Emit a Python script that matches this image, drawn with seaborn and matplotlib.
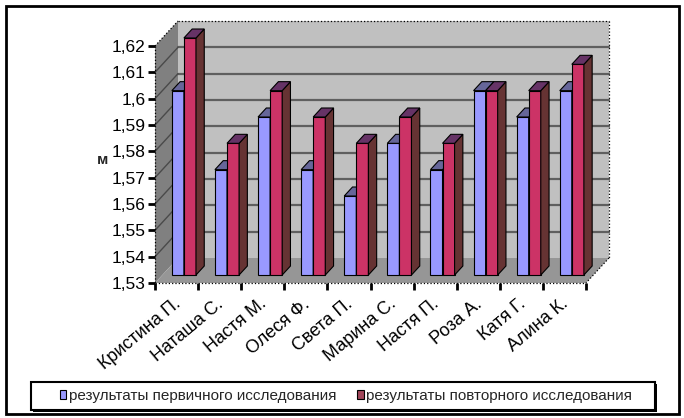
# Рост девочек: первичное и повторное исследование (3D-like bar chart)

import numpy as np
import pandas as pd
import matplotlib
matplotlib.use('Agg')
import matplotlib.pyplot as plt
import matplotlib.transforms as mtransforms
from matplotlib.patches import Polygon, Rectangle
from matplotlib.lines import Line2D
import seaborn as sns

# Data
names = ['Кристина П.', 'Наташа С.', 'Настя М.', 'Олеся Ф.', 'Света П.',
         'Марина С.', 'Настя П.', 'Роза А.', 'Катя Г.', 'Алина К.']
first = [1.60, 1.57, 1.59, 1.57, 1.56, 1.58, 1.57, 1.60, 1.59, 1.60]
second = [1.62, 1.58, 1.60, 1.59, 1.58, 1.59, 1.58, 1.60, 1.60, 1.61]
series = ['результаты первичного исследования', 'результаты повторного исследования']
yticks = [1.53, 1.54, 1.55, 1.56, 1.57, 1.58, 1.59, 1.60, 1.61, 1.62]
ytick_labels = ['1,53', '1,54', '1,55', '1,56', '1,57', '1,58', '1,59', '1,6', '1,61', '1,62']

df = pd.DataFrame({'name': names * 2,
                   'value': first + second,
                   'series': [series[0]] * len(names) + [series[1]] * len(names)})

base, top = yticks[0], yticks[-1]

# Colours
front = ['#9999FF', '#CC3366']
tops = ['#666699', '#663366']
sides = ['#55558A', '#663333']
legend_keys = ['#9999FF', '#A0465A']

sns.set_theme(style = 'ticks')
plt.rcParams['font.family'] = ['Liberation Sans', 'DejaVu Sans']

fig = plt.figure(figsize = (6.84, 4.18), dpi = 100)
ax = fig.add_axes([155 / 684, 135 / 418, 431 / 684, 237 / 418])

sns.barplot(ax = ax,
            data = df,
            x = 'name',
            y = 'value',
            hue = 'series',
            palette = front,
            saturation = 1,
            width = 0.56,
            gap = 0,
            errorbar = None,
            edgecolor = 'black',
            linewidth = 0.8,
            legend = False)

ax.set_xlim(-0.5, len(names) - 0.5)
ax.set_ylim(base, top)
ax.set_facecolor('none')
for s in ax.spines.values():
    s.set_visible(False)
ax.set(xlabel = '', ylabel = '')

# depth helpers (depth in pixels)
inv = fig.transFigure.inverted()
wall_d = 25
bar_d0, bar_d1 = 8, 17

def pt(x, v, d):
    px, py = ax.transData.transform((x, v))
    return inv.transform((px + 0.92 * d, py + d))

def face(pts, color, z, lw = 0.8, ec = 'black'):
    poly = Polygon([pt(*p) for p in pts], closed = True, facecolor = color,
                   edgecolor = ec, linewidth = lw, transform = fig.transFigure,
                   clip_on = False, zorder = z)
    ax.add_patch(poly)

def line(p1, p2, color, lw, ls = '-', z = 0.5):
    a, b = pt(*p1), pt(*p2)
    ax.add_line(Line2D([a[0], b[0]], [a[1], b[1]], color = color, lw = lw, ls = ls,
                       transform = fig.transFigure, clip_on = False, zorder = z))

bars = list(ax.patches)
x0, x1 = ax.get_xlim()

# walls and floor
face([(x0, base, wall_d), (x1, base, wall_d), (x1, top, wall_d), (x0, top, wall_d)], '#C0C0C0', 0.1, lw = 0)
face([(x0, base, 0), (x0, base, wall_d), (x0, top, wall_d), (x0, top, 0)], '#808080', 0.1, lw = 0)
face([(x0, base, 0), (x1, base, 0), (x1, base, wall_d), (x0, base, wall_d)], '#969696', 0.1, lw = 0)

for v in yticks[1:-1]:
    line((x0, v, wall_d), (x1, v, wall_d), '#5F5F5F', 1.6)
    line((x0, v, 0), (x0, v, wall_d), '#4A4A4A', 1.0)

# dotted outlines
for p1, p2 in [((x0, top, wall_d), (x1, top, wall_d)),
               ((x1, top, wall_d), (x1, base, wall_d)),
               ((x1, base, wall_d), (x1, base, 0)),
               ((x0, base, 0), (x1, base, 0)),
               ((x0, top, 0), (x0, top, wall_d)),
               ((x0, top, 0), (x0, base, 0))]:
    line(p1, p2, 'black', 0.9, ls = ':', z = 0.6)

# bars: move to mid depth, start at the floor, add side and top faces
shift = mtransforms.ScaledTranslation(0.92 * bar_d0 / 100, bar_d0 / 100, fig.dpi_scale_trans)
for k, p in enumerate(bars):
    i = k // len(names)
    v = p.get_height()
    p.set_y(base)
    p.set_height(v - base)
    p.set_transform(ax.transData + shift)
    p.set_clip_on(False)
    p.set_zorder(2 + i)
    xl = p.get_x()
    xr = xl + p.get_width()
    face([(xr, base, bar_d0), (xr, base, bar_d1), (xr, v, bar_d1), (xr, v, bar_d0)], sides[i], 2 + i)
    face([(xl, v, bar_d0), (xr, v, bar_d0), (xr, v, bar_d1), (xl, v, bar_d1)], tops[i], 2 + i)

# ticks
ax.set_yticks(yticks, ytick_labels)
ax.set_xticks(range(len(names)), [''] * len(names))
ax.set_xticks(np.arange(-0.5, len(names), 1), minor = True)
ax.tick_params(axis = 'y', left = True, length = 5, width = 2, color = 'black',
               pad = 2, labelsize = 12.5, labelcolor = 'black')
ax.tick_params(axis = 'x', which = 'major', bottom = False, length = 0)
ax.tick_params(axis = 'x', which = 'minor', bottom = True, length = 5, width = 2, color = 'black')

# category labels (slanted, right end under each group)
lab_off = mtransforms.ScaledTranslation(2 / 100, -19 / 100, fig.dpi_scale_trans)
for i, name in enumerate(names):
    ax.text(i, base, name, rotation = 40, rotation_mode = 'anchor',
            ha = 'right', va = 'center', fontsize = 13, color = 'black',
            transform = ax.transData + lab_off, clip_on = False)

fig.text(103 / 684, 1 - 160 / 418, 'м', fontsize = 11, fontweight = 'bold',
         ha = 'center', va = 'center')

# legend box with shadow
fig.add_artist(Rectangle((33 / 684, 1 - 412 / 418), 624 / 684, 28 / 418,
                         transform = fig.transFigure, facecolor = 'black',
                         edgecolor = 'black', linewidth = 0, zorder = 2))
fig.add_artist(Rectangle((31 / 684, 1 - 410 / 418), 624 / 684, 28 / 418,
                         transform = fig.transFigure, facecolor = 'white',
                         edgecolor = 'black', linewidth = 1.5, zorder = 3))

handles = [Rectangle((0, 0), 1, 1, facecolor = c, edgecolor = 'black', linewidth = 0.8) for c in legend_keys]
leg = fig.legend(handles = handles, labels = series, loc = 'center',
                 bbox_to_anchor = (346 / 684, 1 - 396 / 418), ncol = 2, frameon = False,
                 fontsize = 11, handlelength = 0.45, handleheight = 0.45,
                 handletextpad = 0.15, columnspacing = 1.37, borderpad = 0)
leg.set_zorder(5)

# outer frame
fig.add_artist(Rectangle((6 / 684, 4 / 418), 673 / 684, 408 / 418,
                         transform = fig.transFigure, fill = False,
                         edgecolor = 'black', linewidth = 2))

fig.savefig('out.png', dpi = 100)
plt.close()
